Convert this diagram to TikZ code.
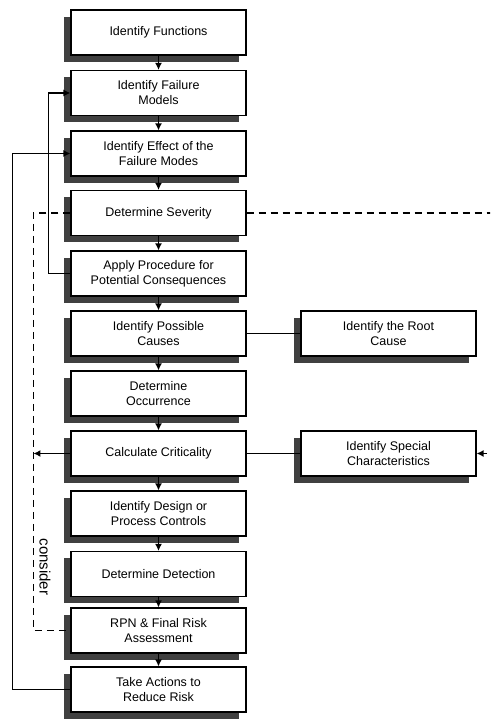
\documentclass[tikz,border=0pt]{standalone}
\usepackage{fontspec}
\setmainfont{Liberation Sans}
\usetikzlibrary{arrows.meta,shadows}
\tikzset{
  stepbox/.style={draw, line width=1.1pt, fill=white, minimum width=175pt, minimum height=45pt,
    align=center, inner sep=2pt, font=\fontsize{12.5}{15}\selectfont,
    general shadow={fill=black!75, shadow xshift=-7pt, shadow yshift=-7pt}},
  back/.style={draw, line width=1.6pt, {Latex[length=7pt,width=7pt]}-},
  flow/.style={line width=1.6pt, -{Latex[length=7pt,width=7pt]}},
  link/.style={line width=1.6pt},
  hint/.style={line width=1.8pt, dash pattern=on 7pt off 5pt},
}
\begin{document}
\begin{tikzpicture}[x=1pt,y=1pt]
  \useasboundingbox (0,0) rectangle (490,720);
  \clip (0,0) rectangle (490,720);
  % main column
  \node (Fn) at (158.5,687.5) [stepbox] {Identify Functions};
  \node (Fm) at (158.5,627)   [stepbox] {Identify Failure\\Models} edge [back] (Fn);
  \node (Ef) at (158.5,566.5) [stepbox] {Identify Effect of the\\Failure Modes} edge [back] (Fm);
  \node (Ds) at (158.5,507)   [stepbox] {Determine Severity} edge [back] (Ef);
  \node (Ap) at (158.5,446.5) [stepbox] {Apply Procedure for\\Potential Consequences} edge [back] (Ds);
  \node (Pc) at (158.5,386.5) [stepbox] {Identify Possible\\Causes} edge [back] (Ap);
  \node (Oc) at (158.5,326.5) [stepbox] {Determine\\Occurrence} edge [back] (Pc);
  \node (Ca) at (158.5,266.5) [stepbox] {Calculate Criticality} edge [back] (Oc);
  \node (Dc) at (158.5,206.5) [stepbox] {Identify Design or\\Process Controls} edge [back] (Ca);
  \node (Dd) at (158.5,146)   [stepbox] {Determine Detection} edge [back] (Dc);
  \node (Rp) at (158.5,89.5)  [stepbox] {RPN \& Final Risk\\Assessment} edge [back] (Dd);
  \node (Ta) at (158.5,30.5)  [stepbox] {Take Actions to\\Reduce Risk} edge [back] (Rp);
  % side boxes
  \node (Rc) at (388.5,386.5) [stepbox] {Identify the Root\\Cause};
  \node (Sc) at (388.5,266.5) [stepbox] {Identify Special\\Characteristics};
  \draw[link] (Pc) -- (Rc);
  \draw[link] (Ca) -- (Sc);
  % feedback loops
  \draw[flow] (Ap.west) -- ++(-22,0) |- (Fm.west);
  \draw[flow] (Ta.west) -- ++(-58,0) |- (Ef.west);
  \draw[hint] (Ds.west) -- ++(-37,0) coordinate (Dl) |- (Rp.west);
  \draw[flow] (Ca.west) -- (Ca.west -| Dl);
  \draw[hint, -{Latex[length=7pt,width=7pt]}] (Ds.east) -- ++(270,0) |- (Sc.east);
  \node (Cs) at (45,153) [rotate=-90, font=\fontsize{15}{18}\selectfont] {consider};
\end{tikzpicture}
\end{document}
